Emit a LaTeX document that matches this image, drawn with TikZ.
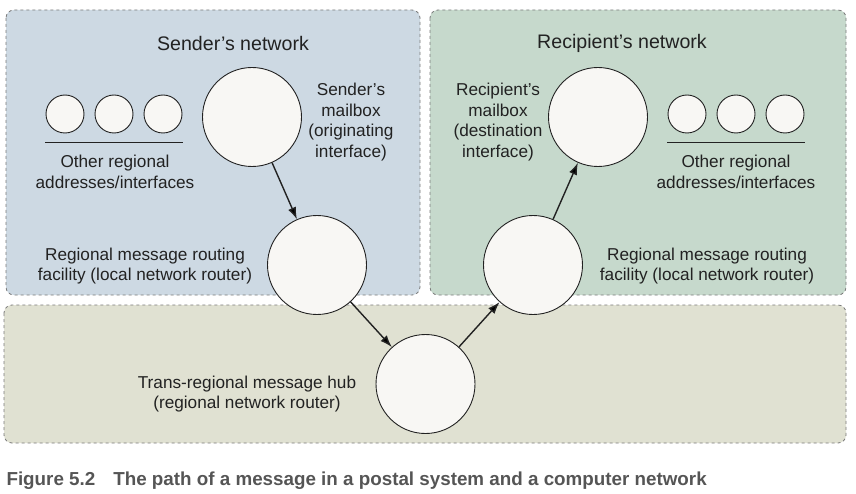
\documentclass[tikz,border=0pt]{standalone}
\usepackage{fontspec}
\setmainfont{Liberation Sans}
\newfontfamily\capfont{Liberation Sans}
\usetikzlibrary{arrows.meta}

\definecolor{senderfill}{HTML}{CDD9E3}
\definecolor{recipfill}{HTML}{C6D9CC}
\definecolor{hubfill}{HTML}{E0E1D2}
\definecolor{dotfill}{HTML}{F8F7F4}
\definecolor{boxline}{HTML}{7A7A7A}
\definecolor{txt}{HTML}{222222}
\definecolor{captxt}{HTML}{555555}

\begin{document}
\begin{tikzpicture}[x=1pt,y=-1pt,>={Latex[length=12pt,width=8.5pt]},
                    net box/.style={draw=boxline,dashed,line width=0.8pt,rounded corners=8pt},
                    big node/.style={circle,draw=txt,fill=dotfill,line width=0.9pt,minimum size=99pt,inner sep=0pt},
                    small node/.style={circle,draw=txt,fill=dotfill,line width=0.9pt,minimum size=38pt,inner sep=0pt},
                    label node/.style={align=center,text=txt,font=\fontsize{17.2}{20.5}\selectfont},
                    title node/.style={text=txt,font=\fontsize{19.6}{22}\selectfont}]
  \useasboundingbox (0,0) rectangle (856,494);
  % network areas
  \path[net box,fill=senderfill] (6,10) rectangle (420,295);
  \path[net box,fill=recipfill] (430,10) rectangle (846,295);
  \path[net box,fill=hubfill] (4,305) rectangle (846,443);
  \node[title node] (stitle) at (233,43) {Sender’s network};
  \node[title node] (rtitle) at (622,43) {Recipient’s network};
  % sender side
  \foreach \x [count=\i] in {65,114,163}
    \node[small node] (s\i) at (\x,114) {};
  \draw[txt,line width=0.9pt] (45,142) -- (183,142);
  \node[label node] (sother) at (115,172) {Other regional\\addresses/interfaces};
  \node[big node] (smail) at (252,117) {};
  \node[label node] (smaillabel) at (351,122) {Sender’s\\mailbox\\(originating\\interface)};
  \node[big node] (srouter) at (317,265) {};
  \node[label node] (srouterlabel) at (145,266) {Regional message routing\\facility (local network router)};
  % recipient side
  \foreach \x [count=\i] in {687,736,785}
    \node[small node] (r\i) at (\x,114) {};
  \draw[txt,line width=0.9pt] (667,142) -- (805,142);
  \node[label node] (rother) at (736,172) {Other regional\\addresses/interfaces};
  \node[big node] (rmail) at (598,117) {};
  \node[label node] (rmaillabel) at (498,122) {Recipient’s\\mailbox\\(destination\\interface)};
  \node[big node] (rrouter) at (533,265) {};
  \node[label node] (rrouterlabel) at (707,266) {Regional message routing\\facility (local network router)};
  % hub
  \node[big node] (hub) at (425.5,384) {};
  \node[label node] (hublabel) at (247,394) {Trans-regional message hub\\(regional network router)};
  \path[->,draw=txt,line width=1.4pt]
    (smail) edge (srouter)
    (srouter) edge (hub)
    (hub) edge (rrouter)
    (rrouter) edge (rmail);
  \node[anchor=west,text=captxt,font=\capfont\bfseries\fontsize{18.8}{20}\selectfont] (caption) at (3,481)
    {Figure 5.2\hspace{18pt}The path of a message in a postal system and a computer network};
\end{tikzpicture}
\end{document}
